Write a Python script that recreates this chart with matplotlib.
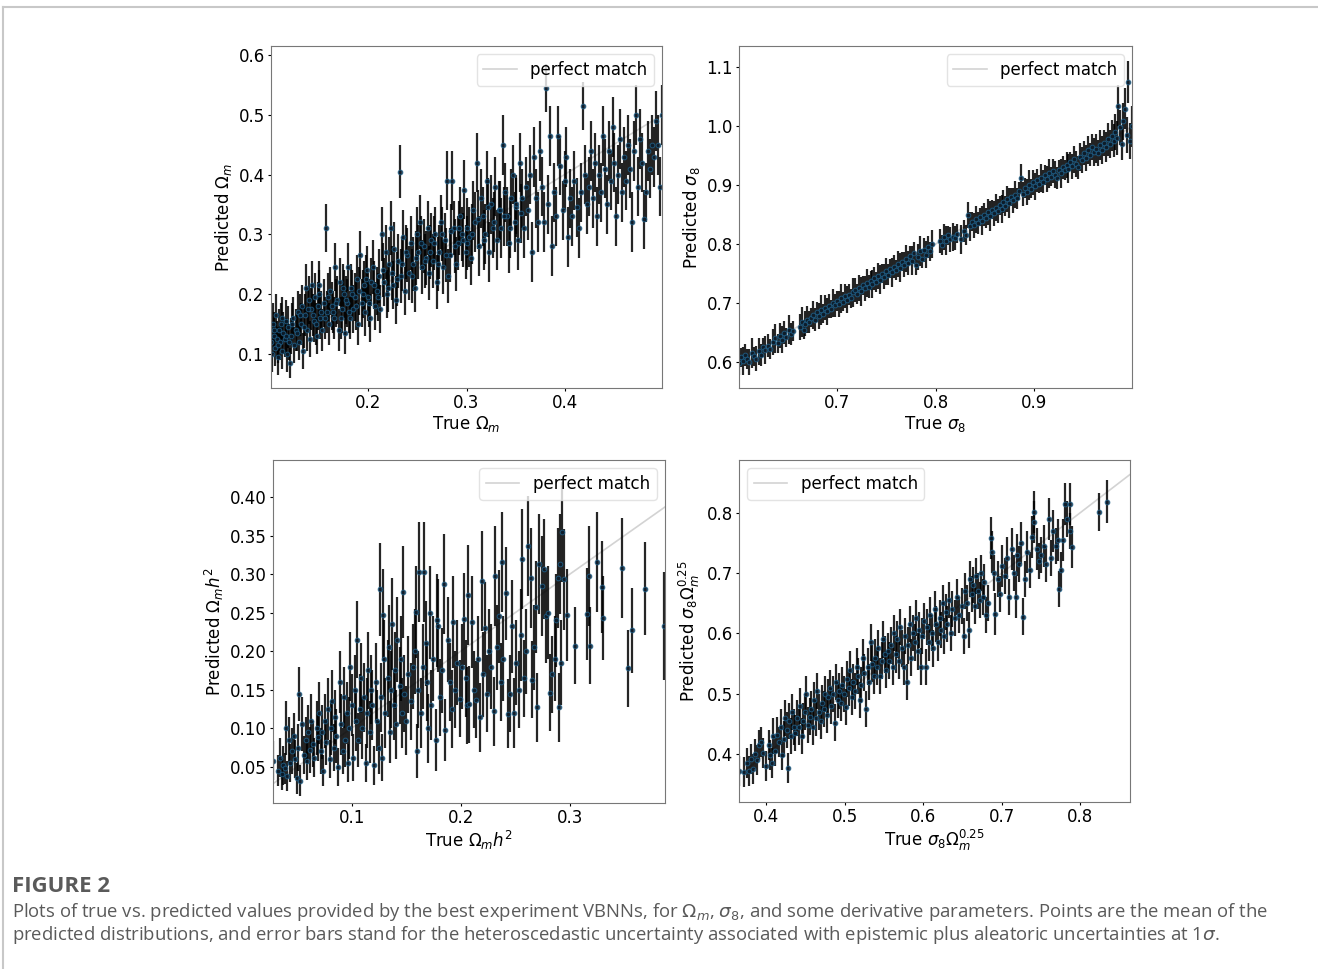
import numpy as np
import matplotlib as mpl
mpl.use("Agg")
import matplotlib.pyplot as plt
from matplotlib.lines import Line2D


FONT_TICKS = 12
mpl.rc('font', family='DejaVu Sans', size=FONT_TICKS)
mpl.rc('mathtext', fontset='dejavusans')

## Panel 1: Omega_m
om_true = [
    0.101, 0.102, 0.103, 0.104, 0.105, 0.106, 0.107, 0.108, 0.109, 0.110,
    0.111, 0.112, 0.113, 0.115, 0.116, 0.117, 0.118, 0.120, 0.121, 0.123,
    0.124, 0.126, 0.128, 0.129, 0.131, 0.132, 0.133, 0.135, 0.136, 0.137,
    0.139, 0.140, 0.141, 0.142, 0.144, 0.145, 0.147, 0.148, 0.150, 0.151,
    0.153, 0.155, 0.157, 0.158, 0.160, 0.161, 0.163, 0.165, 0.166, 0.168,
    0.170, 0.171, 0.173, 0.175, 0.176, 0.178, 0.179, 0.181, 0.182, 0.184,
    0.186, 0.188, 0.189, 0.191, 0.193, 0.195, 0.196, 0.198, 0.200, 0.202,
    0.203, 0.205, 0.207, 0.209, 0.211, 0.212, 0.214, 0.216, 0.218, 0.219,
    0.221, 0.223, 0.225, 0.226, 0.228, 0.230, 0.232, 0.233, 0.235, 0.237,
    0.239, 0.241, 0.243, 0.245, 0.247, 0.249, 0.251, 0.253, 0.255, 0.257,
    0.259, 0.261, 0.262, 0.264, 0.266, 0.268, 0.270, 0.272, 0.274, 0.276,
    0.278, 0.280, 0.281, 0.283, 0.285, 0.287, 0.289, 0.291, 0.293, 0.295,
    0.297, 0.299, 0.301, 0.303, 0.305, 0.307, 0.309, 0.311, 0.313, 0.315,
    0.317, 0.319, 0.321, 0.323, 0.325, 0.327, 0.329, 0.331, 0.333, 0.335,
    0.337, 0.339, 0.341, 0.343, 0.345, 0.347, 0.349, 0.351, 0.353, 0.355,
    0.357, 0.359, 0.361, 0.363, 0.365, 0.367, 0.369, 0.371, 0.373, 0.375,
    0.377, 0.379, 0.381, 0.383, 0.385, 0.387, 0.389, 0.391, 0.393, 0.395,
    0.398, 0.400, 0.402, 0.404, 0.406, 0.408, 0.410, 0.413, 0.415, 0.417,
    0.419, 0.421, 0.423, 0.425, 0.427, 0.429, 0.431, 0.433, 0.435, 0.437,
    0.439, 0.441, 0.443, 0.445, 0.447, 0.449, 0.451, 0.453, 0.455, 0.457,
    0.459, 0.461, 0.463, 0.465, 0.467, 0.469, 0.471, 0.473, 0.475, 0.477,
    0.479, 0.481, 0.483, 0.485, 0.487, 0.489, 0.491, 0.493, 0.495, 0.497, 0.499,
    # second, denser batch in the crowded low/mid range
    0.104, 0.108, 0.112, 0.116, 0.119, 0.122, 0.127, 0.130, 0.134, 0.138,
    0.143, 0.146, 0.149, 0.152, 0.156, 0.159, 0.164, 0.167, 0.172, 0.174,
    0.177, 0.180, 0.183, 0.187, 0.190, 0.194, 0.197, 0.201, 0.206, 0.210,
    0.215, 0.220, 0.224, 0.229, 0.234, 0.238, 0.244, 0.248, 0.254, 0.258,
    0.263, 0.267, 0.271, 0.275, 0.279, 0.284, 0.288, 0.292, 0.296, 0.300,
    0.306, 0.312, 0.318, 0.322, 0.328, 0.334, 0.338, 0.344, 0.350, 0.356]
om_pred = [
    0.120, 0.100, 0.150, 0.130, 0.110, 0.165, 0.125, 0.095, 0.140, 0.120,
    0.150, 0.105, 0.135, 0.125, 0.155, 0.100, 0.145, 0.085, 0.130, 0.160,
    0.115, 0.140, 0.170, 0.120, 0.150, 0.180, 0.105, 0.165, 0.210, 0.140,
    0.190, 0.125, 0.175, 0.215, 0.155, 0.195, 0.130, 0.180, 0.215, 0.160,
    0.140, 0.185, 0.310, 0.170, 0.150, 0.205, 0.180, 0.160, 0.245, 0.190,
    0.140, 0.220, 0.175, 0.200, 0.135, 0.185, 0.245, 0.160, 0.210, 0.175,
    0.195, 0.225, 0.150, 0.265, 0.185, 0.215, 0.170, 0.240, 0.195, 0.160,
    0.220, 0.245, 0.180, 0.205, 0.230, 0.175, 0.300, 0.220, 0.270, 0.200,
    0.250, 0.310, 0.215, 0.275, 0.190, 0.255, 0.405, 0.230, 0.295, 0.205,
    0.265, 0.235, 0.285, 0.250, 0.210, 0.300, 0.270, 0.320, 0.245, 0.280,
    0.260, 0.310, 0.235, 0.290, 0.255, 0.300, 0.220, 0.270, 0.320, 0.245,
    0.290, 0.390, 0.230, 0.265, 0.390, 0.310, 0.250, 0.285, 0.330, 0.300,
    0.375, 0.270, 0.310, 0.295, 0.260, 0.340, 0.320, 0.420, 0.280, 0.360,
    0.330, 0.300, 0.390, 0.270, 0.350, 0.310, 0.380, 0.290, 0.340, 0.310,
    0.450, 0.370, 0.330, 0.285, 0.360, 0.400, 0.320, 0.345, 0.290, 0.420,
    0.360, 0.310, 0.380, 0.340, 0.400, 0.270, 0.430, 0.360, 0.320, 0.440,
    0.380, 0.320, 0.545, 0.350, 0.465, 0.280, 0.370, 0.330, 0.465, 0.415,
    0.340, 0.390, 0.430, 0.295, 0.360, 0.330, 0.390, 0.345, 0.310, 0.370,
    0.515, 0.400, 0.350, 0.380, 0.440, 0.360, 0.420, 0.330, 0.400, 0.370,
    0.465, 0.410, 0.350, 0.440, 0.390, 0.480, 0.420, 0.330, 0.400, 0.460,
    0.370, 0.430, 0.390, 0.450, 0.410, 0.320, 0.440, 0.500, 0.380, 0.460,
    0.420, 0.325, 0.370, 0.440, 0.410, 0.450, 0.430, 0.490, 0.450, 0.380, 0.500,
    0.140, 0.115, 0.160, 0.130, 0.120, 0.150, 0.135, 0.165, 0.145, 0.175,
    0.165, 0.150, 0.200, 0.170, 0.160, 0.195, 0.170, 0.185, 0.160, 0.210,
    0.190, 0.170, 0.200, 0.180, 0.205, 0.200, 0.225, 0.185, 0.215, 0.195,
    0.240, 0.210, 0.235, 0.225, 0.250, 0.270, 0.230, 0.260, 0.285, 0.255,
    0.270, 0.285, 0.250, 0.300, 0.265, 0.305, 0.280, 0.310, 0.290, 0.285,
    0.300, 0.325, 0.290, 0.345, 0.320, 0.340, 0.330, 0.310, 0.350, 0.335]
om_err = [
    0.035, 0.030, 0.035, 0.030, 0.030, 0.035, 0.030, 0.030, 0.035, 0.030,
    0.035, 0.030, 0.035, 0.030, 0.035, 0.030, 0.035, 0.025, 0.030, 0.035,
    0.030, 0.035, 0.035, 0.030, 0.035, 0.035, 0.030, 0.035, 0.040, 0.035,
    0.040, 0.030, 0.035, 0.040, 0.035, 0.040, 0.030, 0.040, 0.040, 0.035,
    0.035, 0.040, 0.040, 0.035, 0.035, 0.040, 0.040, 0.035, 0.040, 0.040,
    0.035, 0.040, 0.040, 0.040, 0.035, 0.040, 0.040, 0.035, 0.040, 0.040,
    0.040, 0.040, 0.035, 0.040, 0.040, 0.040, 0.040, 0.040, 0.040, 0.040,
    0.040, 0.045, 0.040, 0.040, 0.045, 0.040, 0.045, 0.040, 0.045, 0.040,
    0.045, 0.045, 0.040, 0.045, 0.040, 0.045, 0.045, 0.045, 0.045, 0.040,
    0.045, 0.045, 0.045, 0.045, 0.040, 0.045, 0.045, 0.045, 0.045, 0.045,
    0.045, 0.045, 0.045, 0.045, 0.045, 0.045, 0.045, 0.045, 0.045, 0.045,
    0.045, 0.050, 0.045, 0.045, 0.050, 0.045, 0.045, 0.045, 0.050, 0.045,
    0.050, 0.045, 0.050, 0.050, 0.045, 0.050, 0.050, 0.050, 0.050, 0.050,
    0.050, 0.050, 0.050, 0.050, 0.050, 0.050, 0.050, 0.050, 0.050, 0.050,
    0.050, 0.050, 0.050, 0.050, 0.050, 0.050, 0.050, 0.050, 0.050, 0.050,
    0.050, 0.050, 0.050, 0.050, 0.050, 0.050, 0.050, 0.050, 0.050, 0.050,
    0.050, 0.050, 0.040, 0.050, 0.050, 0.050, 0.050, 0.050, 0.050, 0.050,
    0.050, 0.050, 0.050, 0.050, 0.050, 0.050, 0.050, 0.050, 0.050, 0.050,
    0.040, 0.050, 0.050, 0.050, 0.050, 0.050, 0.050, 0.050, 0.050, 0.050,
    0.050, 0.050, 0.050, 0.050, 0.050, 0.050, 0.050, 0.050, 0.050, 0.050,
    0.050, 0.050, 0.050, 0.050, 0.050, 0.050, 0.050, 0.050, 0.050, 0.050,
    0.050, 0.050, 0.050, 0.050, 0.050, 0.050, 0.050, 0.050, 0.050, 0.050, 0.050,
    0.030, 0.030, 0.035, 0.030, 0.030, 0.035, 0.030, 0.035, 0.035, 0.035,
    0.035, 0.035, 0.040, 0.035, 0.035, 0.040, 0.035, 0.040, 0.035, 0.040,
    0.040, 0.035, 0.040, 0.040, 0.040, 0.040, 0.040, 0.040, 0.040, 0.040,
    0.045, 0.040, 0.045, 0.045, 0.045, 0.045, 0.045, 0.045, 0.045, 0.045,
    0.045, 0.045, 0.045, 0.045, 0.045, 0.045, 0.045, 0.045, 0.045, 0.045,
    0.050, 0.050, 0.050, 0.050, 0.050, 0.050, 0.050, 0.050, 0.050, 0.050]

## Panel 2: sigma_8
s8_true = [
    0.601, 0.603, 0.605, 0.607, 0.609, 0.611, 0.614, 0.616, 0.618, 0.621,
    0.623, 0.625, 0.627, 0.630, 0.632, 0.635, 0.637, 0.640, 0.642, 0.644,
    0.646, 0.648, 0.651, 0.653, 0.655, 0.662, 0.664, 0.666, 0.668, 0.670,
    0.672, 0.674, 0.676, 0.678, 0.680, 0.682, 0.684, 0.686, 0.688, 0.690,
    0.692, 0.694, 0.696, 0.698, 0.700, 0.702, 0.704, 0.706, 0.708, 0.710,
    0.712, 0.714, 0.716, 0.718, 0.720, 0.722, 0.724, 0.726, 0.728, 0.730,
    0.732, 0.734, 0.736, 0.738, 0.740, 0.742, 0.744, 0.746, 0.748, 0.750,
    0.752, 0.754, 0.756, 0.758, 0.760, 0.762, 0.764, 0.766, 0.768, 0.770,
    0.772, 0.774, 0.776, 0.778, 0.780, 0.782, 0.784, 0.786, 0.788, 0.790,
    0.792, 0.794, 0.796, 0.805, 0.807, 0.809, 0.811, 0.813, 0.815, 0.818,
    0.820, 0.822, 0.826, 0.829, 0.831, 0.833, 0.835, 0.837, 0.839, 0.841,
    0.843, 0.845, 0.847, 0.849, 0.851, 0.853, 0.855, 0.857, 0.859, 0.861,
    0.863, 0.865, 0.867, 0.869, 0.871, 0.873, 0.875, 0.877, 0.879, 0.881,
    0.883, 0.885, 0.887, 0.889, 0.891, 0.893, 0.895, 0.897, 0.899, 0.901,
    0.903, 0.905, 0.907, 0.909, 0.911, 0.913, 0.915, 0.917, 0.919, 0.921,
    0.923, 0.925, 0.927, 0.929, 0.931, 0.933, 0.935, 0.937, 0.939, 0.941,
    0.943, 0.945, 0.947, 0.949, 0.951, 0.953, 0.955, 0.957, 0.959, 0.961,
    0.963, 0.965, 0.967, 0.969, 0.971, 0.973, 0.975, 0.977, 0.979, 0.981,
    0.982, 0.984, 0.985, 0.987, 0.989, 0.990, 0.992, 0.994, 0.995, 0.997, 0.999]
s8_pred = [
    0.598, 0.608, 0.602, 0.612, 0.605, 0.600, 0.615, 0.610, 0.606, 0.618,
    0.612, 0.625, 0.620, 0.628, 0.622, 0.634, 0.640, 0.632, 0.645, 0.638,
    0.650, 0.642, 0.655, 0.648, 0.652, 0.660, 0.668, 0.655, 0.665, 0.672,
    0.668, 0.675, 0.680, 0.672, 0.685, 0.678, 0.688, 0.682, 0.692, 0.686,
    0.695, 0.690, 0.700, 0.696, 0.703, 0.698, 0.708, 0.702, 0.712, 0.706,
    0.714, 0.708, 0.718, 0.722, 0.715, 0.726, 0.720, 0.730, 0.725, 0.734,
    0.728, 0.738, 0.732, 0.742, 0.736, 0.746, 0.740, 0.750, 0.745, 0.754,
    0.748, 0.758, 0.752, 0.762, 0.756, 0.766, 0.760, 0.770, 0.765, 0.775,
    0.768, 0.780, 0.772, 0.785, 0.764, 0.778, 0.788, 0.775, 0.790, 0.782,
    0.795, 0.788, 0.800, 0.805, 0.798, 0.812, 0.806, 0.815, 0.808, 0.812,
    0.810, 0.818, 0.808, 0.822, 0.815, 0.850, 0.830, 0.838, 0.832, 0.842,
    0.836, 0.846, 0.840, 0.850, 0.845, 0.855, 0.848, 0.858, 0.852, 0.862,
    0.856, 0.866, 0.860, 0.872, 0.865, 0.876, 0.870, 0.880, 0.874, 0.884,
    0.878, 0.890, 0.912, 0.885, 0.895, 0.888, 0.900, 0.894, 0.905, 0.898,
    0.908, 0.902, 0.912, 0.906, 0.918, 0.910, 0.920, 0.914, 0.924, 0.918,
    0.912, 0.926, 0.920, 0.930, 0.925, 0.935, 0.928, 0.940, 0.932, 0.944,
    0.936, 0.930, 0.948, 0.942, 0.955, 0.946, 0.960, 0.952, 0.964, 0.956,
    0.962, 0.955, 0.968, 0.960, 0.972, 0.965, 0.978, 0.970, 0.984, 0.975,
    0.990, 0.980, 1.035, 0.998, 0.970, 1.008, 1.030, 0.985, 1.075, 0.975, 1.000]
s8_err = [
    0.020, 0.016, 0.024, 0.019, 0.017, 0.022, 0.025, 0.016, 0.021, 0.023,
    0.018, 0.016, 0.024, 0.020, 0.017, 0.022, 0.025, 0.016, 0.021, 0.023,
    0.020, 0.016, 0.024, 0.019, 0.017, 0.022, 0.025, 0.016, 0.021, 0.023,
    0.018, 0.016, 0.024, 0.020, 0.017, 0.022, 0.025, 0.016, 0.021, 0.023,
    0.020, 0.016, 0.024, 0.019, 0.017, 0.022, 0.025, 0.016, 0.021, 0.023,
    0.018, 0.016, 0.024, 0.020, 0.017, 0.022, 0.025, 0.016, 0.021, 0.023,
    0.020, 0.016, 0.024, 0.019, 0.017, 0.022, 0.025, 0.016, 0.021, 0.023,
    0.018, 0.016, 0.024, 0.020, 0.017, 0.022, 0.025, 0.016, 0.021, 0.023,
    0.020, 0.016, 0.024, 0.019, 0.017, 0.022, 0.025, 0.016, 0.021, 0.023,
    0.018, 0.016, 0.024, 0.020, 0.017, 0.022, 0.025, 0.016, 0.021, 0.023,
    0.020, 0.016, 0.024, 0.019, 0.017, 0.022, 0.025, 0.016, 0.021, 0.023,
    0.018, 0.016, 0.024, 0.020, 0.017, 0.022, 0.025, 0.016, 0.021, 0.023,
    0.020, 0.016, 0.024, 0.019, 0.017, 0.022, 0.025, 0.016, 0.021, 0.023,
    0.018, 0.016, 0.024, 0.020, 0.017, 0.022, 0.025, 0.016, 0.021, 0.023,
    0.020, 0.016, 0.024, 0.019, 0.017, 0.022, 0.025, 0.016, 0.021, 0.023,
    0.018, 0.016, 0.024, 0.020, 0.017, 0.022, 0.025, 0.016, 0.021, 0.023,
    0.022, 0.020, 0.024, 0.022, 0.020, 0.022, 0.024, 0.020, 0.022, 0.024,
    0.024, 0.022, 0.026, 0.024, 0.022, 0.026, 0.028, 0.024, 0.026, 0.028,
    0.030, 0.028, 0.035, 0.030, 0.028, 0.032, 0.035, 0.030, 0.035, 0.030, 0.035]

## Panel 3: Omega_m h^2
omh2_true = [
    0.028, 0.033, 0.034, 0.036, 0.037, 0.039, 0.040, 0.041, 0.043, 0.044,
    0.045, 0.047, 0.048, 0.050, 0.051, 0.052, 0.053, 0.055, 0.056, 0.058,
    0.059, 0.060, 0.062, 0.063, 0.065, 0.066, 0.068, 0.069, 0.070, 0.072,
    0.073, 0.074, 0.076, 0.077, 0.078, 0.080, 0.081, 0.082, 0.084, 0.085,
    0.086, 0.088, 0.089, 0.090, 0.092, 0.093, 0.094, 0.096, 0.097, 0.098,
    0.099, 0.100, 0.101, 0.103, 0.104, 0.105, 0.106, 0.108, 0.109, 0.110,
    0.111, 0.113, 0.114, 0.115, 0.117, 0.118, 0.119, 0.121, 0.122, 0.123,
    0.125, 0.126, 0.127, 0.128, 0.129, 0.130, 0.131, 0.133, 0.134, 0.135,
    0.136, 0.137, 0.139, 0.140, 0.141, 0.142, 0.144, 0.145, 0.146, 0.147,
    0.148, 0.150, 0.152, 0.154, 0.156, 0.158, 0.159, 0.160, 0.161, 0.162,
    0.164, 0.165, 0.166, 0.168, 0.169, 0.170, 0.172, 0.173, 0.175, 0.177,
    0.178, 0.179, 0.181, 0.183, 0.185, 0.186, 0.188, 0.190, 0.192, 0.193,
    0.195, 0.197, 0.199, 0.201, 0.203, 0.205, 0.206, 0.207, 0.208, 0.210,
    0.212, 0.214, 0.216, 0.218, 0.219, 0.220, 0.222, 0.224, 0.226, 0.228,
    0.230, 0.231, 0.233, 0.235, 0.237, 0.238, 0.239, 0.241, 0.243, 0.245,
    0.247, 0.249, 0.251, 0.253, 0.255, 0.256, 0.258, 0.260, 0.262, 0.264,
    0.265, 0.267, 0.269, 0.270, 0.272, 0.274, 0.276, 0.278, 0.280, 0.282,
    0.284, 0.286, 0.287, 0.289, 0.290, 0.291, 0.292, 0.293, 0.295, 0.297,
    0.305, 0.316, 0.317, 0.318, 0.325, 0.329, 0.330, 0.348, 0.353, 0.357, 0.369, 0.386]
omh2_pred = [
    0.058, 0.045, 0.062, 0.040, 0.052, 0.048, 0.100, 0.038, 0.085, 0.055,
    0.070, 0.090, 0.060, 0.035, 0.075, 0.145, 0.032, 0.105, 0.065, 0.085,
    0.058, 0.095, 0.072, 0.110, 0.080, 0.062, 0.100, 0.088, 0.120, 0.070,
    0.095, 0.045, 0.110, 0.082, 0.125, 0.060, 0.100, 0.135, 0.075, 0.115,
    0.090, 0.050, 0.160, 0.105, 0.070, 0.140, 0.085, 0.120, 0.055, 0.100,
    0.180, 0.130, 0.062, 0.150, 0.110, 0.215, 0.085, 0.125, 0.165, 0.100,
    0.140, 0.055, 0.120, 0.175, 0.095, 0.150, 0.130, 0.052, 0.160, 0.110,
    0.075, 0.280, 0.140, 0.062, 0.247, 0.190, 0.120, 0.165, 0.205, 0.095,
    0.150, 0.235, 0.130, 0.175, 0.105, 0.215, 0.155, 0.190, 0.120, 0.277,
    0.145, 0.110, 0.170, 0.135, 0.180, 0.200, 0.251, 0.070, 0.150, 0.303,
    0.120, 0.180, 0.303, 0.210, 0.160, 0.100, 0.250, 0.130, 0.190, 0.085,
    0.240, 0.233, 0.140, 0.175, 0.287, 0.098, 0.215, 0.160, 0.125, 0.238,
    0.150, 0.185, 0.138, 0.180, 0.242, 0.165, 0.130, 0.273, 0.131, 0.238,
    0.150, 0.137, 0.190, 0.114, 0.291, 0.170, 0.230, 0.145, 0.200, 0.180,
    0.122, 0.297, 0.205, 0.245, 0.160, 0.316, 0.190, 0.275, 0.119, 0.145,
    0.232, 0.120, 0.185, 0.150, 0.221, 0.320, 0.165, 0.200, 0.336, 0.295,
    0.163, 0.205, 0.257, 0.127, 0.313, 0.285, 0.307, 0.245, 0.250, 0.146,
    0.170, 0.190, 0.240, 0.295, 0.127, 0.313, 0.185, 0.355, 0.293, 0.247,
    0.207, 0.248, 0.298, 0.207, 0.316, 0.283, 0.243, 0.308, 0.178, 0.227, 0.281, 0.233]
omh2_err = [
    0.025, 0.020, 0.025, 0.020, 0.025, 0.020, 0.035, 0.020, 0.030, 0.025,
    0.030, 0.030, 0.025, 0.020, 0.030, 0.035, 0.020, 0.035, 0.025, 0.030,
    0.025, 0.035, 0.030, 0.035, 0.030, 0.025, 0.035, 0.030, 0.040, 0.030,
    0.035, 0.020, 0.035, 0.030, 0.040, 0.025, 0.035, 0.040, 0.030, 0.035,
    0.035, 0.025, 0.040, 0.040, 0.030, 0.040, 0.035, 0.040, 0.025, 0.040,
    0.045, 0.040, 0.030, 0.045, 0.040, 0.050, 0.035, 0.045, 0.045, 0.040,
    0.045, 0.025, 0.045, 0.050, 0.040, 0.045, 0.045, 0.025, 0.050, 0.040,
    0.035, 0.060, 0.045, 0.030, 0.060, 0.050, 0.045, 0.050, 0.055, 0.040,
    0.050, 0.060, 0.045, 0.050, 0.045, 0.055, 0.050, 0.055, 0.045, 0.060,
    0.050, 0.045, 0.050, 0.050, 0.055, 0.055, 0.060, 0.035, 0.050, 0.065,
    0.045, 0.055, 0.065, 0.055, 0.050, 0.045, 0.060, 0.045, 0.055, 0.040,
    0.060, 0.060, 0.050, 0.055, 0.065, 0.040, 0.055, 0.050, 0.050, 0.060,
    0.050, 0.055, 0.050, 0.055, 0.060, 0.050, 0.050, 0.065, 0.050, 0.060,
    0.050, 0.050, 0.055, 0.045, 0.065, 0.055, 0.060, 0.050, 0.055, 0.055,
    0.045, 0.065, 0.055, 0.060, 0.050, 0.065, 0.055, 0.060, 0.045, 0.050,
    0.060, 0.045, 0.055, 0.050, 0.060, 0.065, 0.050, 0.055, 0.065, 0.065,
    0.050, 0.055, 0.060, 0.045, 0.065, 0.065, 0.065, 0.060, 0.060, 0.050,
    0.050, 0.055, 0.060, 0.065, 0.045, 0.065, 0.055, 0.065, 0.065, 0.060,
    0.050, 0.060, 0.065, 0.050, 0.065, 0.060, 0.055, 0.065, 0.050, 0.055, 0.060, 0.070]

## Panel 4: sigma_8 Omega_m^0.25
s8om_true = [
    0.365, 0.372, 0.375, 0.378, 0.380, 0.383, 0.386, 0.388, 0.390, 0.393,
    0.396, 0.400, 0.403, 0.405, 0.407, 0.409, 0.411, 0.413, 0.416, 0.418,
    0.420, 0.422, 0.424, 0.426, 0.427, 0.429, 0.431, 0.433, 0.435, 0.437,
    0.439, 0.441, 0.443, 0.445, 0.447, 0.449, 0.451, 0.453, 0.455, 0.457,
    0.459, 0.461, 0.463, 0.465, 0.467, 0.469, 0.471, 0.473, 0.475, 0.477,
    0.479, 0.481, 0.483, 0.485, 0.487, 0.489, 0.491, 0.493, 0.495, 0.497,
    0.499, 0.501, 0.503, 0.505, 0.507, 0.509, 0.511, 0.513, 0.515, 0.517,
    0.519, 0.521, 0.523, 0.525, 0.527, 0.529, 0.531, 0.533, 0.535, 0.537,
    0.539, 0.541, 0.543, 0.545, 0.547, 0.549, 0.551, 0.553, 0.555, 0.557,
    0.559, 0.561, 0.563, 0.565, 0.567, 0.569, 0.571, 0.573, 0.575, 0.577,
    0.579, 0.581, 0.583, 0.585, 0.587, 0.589, 0.591, 0.593, 0.595, 0.597,
    0.599, 0.601, 0.603, 0.605, 0.607, 0.609, 0.611, 0.613, 0.615, 0.617,
    0.619, 0.621, 0.623, 0.625, 0.627, 0.629, 0.631, 0.633, 0.635, 0.637,
    0.640, 0.643, 0.646, 0.649, 0.652, 0.654, 0.656, 0.658, 0.660, 0.662,
    0.664, 0.666, 0.668, 0.670, 0.672, 0.674, 0.676, 0.678, 0.680, 0.683,
    0.686, 0.688, 0.690, 0.692, 0.695, 0.698, 0.701, 0.704, 0.707, 0.710,
    0.713, 0.716, 0.718, 0.720, 0.722, 0.725, 0.727, 0.730, 0.733, 0.736,
    0.739, 0.741, 0.742, 0.745, 0.748, 0.751, 0.754, 0.757, 0.760, 0.763,
    0.766, 0.769, 0.772, 0.773, 0.776, 0.779, 0.781, 0.784, 0.787, 0.788, 0.790, 0.825, 0.835]
s8om_pred = [
    0.372, 0.370, 0.385, 0.372, 0.392, 0.375, 0.400, 0.390, 0.415, 0.420,
    0.402, 0.380, 0.415, 0.398, 0.385, 0.430, 0.405, 0.432, 0.420, 0.445,
    0.398, 0.425, 0.460, 0.440, 0.377, 0.455, 0.430, 0.470, 0.445, 0.435,
    0.460, 0.445, 0.480, 0.430, 0.455, 0.470, 0.500, 0.448, 0.462, 0.475,
    0.445, 0.490, 0.460, 0.505, 0.470, 0.455, 0.485, 0.475, 0.500, 0.465,
    0.495, 0.510, 0.480, 0.500, 0.452, 0.520, 0.490, 0.505, 0.485, 0.515,
    0.500, 0.478, 0.525, 0.510, 0.540, 0.495, 0.520, 0.505, 0.545, 0.530,
    0.490, 0.515, 0.560, 0.535, 0.475, 0.545, 0.520, 0.585, 0.550, 0.530,
    0.560, 0.545, 0.575, 0.530, 0.555, 0.590, 0.565, 0.540, 0.570, 0.555,
    0.580, 0.545, 0.600, 0.565, 0.590, 0.555, 0.610, 0.575, 0.545, 0.595,
    0.520, 0.580, 0.615, 0.560, 0.600, 0.585, 0.625, 0.570, 0.605, 0.545,
    0.595, 0.620, 0.544, 0.610, 0.585, 0.630, 0.600, 0.575, 0.640, 0.615,
    0.585, 0.625, 0.605, 0.650, 0.595, 0.635, 0.615, 0.655, 0.600, 0.640,
    0.625, 0.660, 0.630, 0.645, 0.596, 0.670, 0.650, 0.605, 0.690, 0.665,
    0.680, 0.645, 0.695, 0.670, 0.655, 0.700, 0.660, 0.685, 0.630, 0.650,
    0.758, 0.735, 0.700, 0.632, 0.690, 0.665, 0.712, 0.695, 0.725, 0.660,
    0.740, 0.700, 0.661, 0.730, 0.715, 0.750, 0.628, 0.690, 0.735, 0.705,
    0.760, 0.785, 0.801, 0.740, 0.720, 0.730, 0.745, 0.715, 0.790, 0.725,
    0.770, 0.745, 0.755, 0.674, 0.705, 0.755, 0.815, 0.790, 0.815, 0.770, 0.744, 0.802, 0.819]
s8om_err = [
    0.025, 0.025, 0.025, 0.025, 0.025, 0.025, 0.025, 0.025, 0.025, 0.025,
    0.025, 0.025, 0.025, 0.025, 0.025, 0.030, 0.025, 0.030, 0.025, 0.030,
    0.025, 0.030, 0.030, 0.030, 0.025, 0.030, 0.030, 0.030, 0.030, 0.030,
    0.030, 0.030, 0.030, 0.030, 0.030, 0.030, 0.030, 0.030, 0.030, 0.030,
    0.030, 0.030, 0.030, 0.030, 0.030, 0.030, 0.030, 0.030, 0.030, 0.030,
    0.030, 0.030, 0.030, 0.030, 0.030, 0.030, 0.030, 0.030, 0.030, 0.030,
    0.030, 0.030, 0.030, 0.030, 0.030, 0.030, 0.030, 0.030, 0.030, 0.030,
    0.030, 0.030, 0.030, 0.030, 0.030, 0.030, 0.030, 0.030, 0.030, 0.030,
    0.030, 0.030, 0.030, 0.030, 0.030, 0.030, 0.030, 0.030, 0.030, 0.030,
    0.030, 0.030, 0.030, 0.030, 0.030, 0.030, 0.030, 0.030, 0.030, 0.030,
    0.030, 0.030, 0.030, 0.030, 0.030, 0.030, 0.030, 0.030, 0.030, 0.030,
    0.030, 0.030, 0.030, 0.030, 0.030, 0.030, 0.030, 0.030, 0.030, 0.030,
    0.030, 0.030, 0.030, 0.030, 0.030, 0.030, 0.030, 0.030, 0.030, 0.030,
    0.030, 0.030, 0.030, 0.030, 0.030, 0.030, 0.030, 0.030, 0.030, 0.030,
    0.030, 0.030, 0.030, 0.030, 0.030, 0.030, 0.030, 0.030, 0.030, 0.030,
    0.035, 0.035, 0.030, 0.035, 0.030, 0.030, 0.035, 0.030, 0.035, 0.030,
    0.035, 0.030, 0.035, 0.035, 0.030, 0.035, 0.030, 0.030, 0.035, 0.030,
    0.035, 0.035, 0.035, 0.035, 0.030, 0.030, 0.035, 0.030, 0.035, 0.030,
    0.035, 0.030, 0.035, 0.030, 0.030, 0.035, 0.035, 0.030, 0.035, 0.030, 0.035, 0.032, 0.035]

## Perfect-match line ranges (same as x limits)
om_range = (0.1005, 0.4995)
s8_range = (0.6005, 0.9995)
omh2_range = (0.028, 0.387)
s8om_range = (0.365, 0.864)

caption_title = "FIGURE 2"
caption_lines = [
    r"Plots of true vs. predicted values provided by the best experiment VBNNs, for $\Omega_m$, $\sigma_8$,"
    r" and some derivative parameters. Points are the mean of the",
    r"predicted distributions, and error bars stand for the heteroscedastic uncertainty associated"
    r" with epistemic plus aleatoric uncertainties at 1$\sigma$.",
]


def plot_panel(ax, true, pred, err, line_range, ylim, xlabel, ylabel, legend_loc):
    ax.plot(line_range, line_range, c='lightgray', lw=1.2, label='perfect match', zorder=1)
    ax.errorbar(true, pred, yerr=err, fmt='o', ms=3.4,
                mfc='#0b1c2c', mec='#1f5f88', mew=0.7,
                ecolor='black', elinewidth=1.6, alpha=0.85, zorder=2)
    ax.set_xlim(*line_range)
    ax.set_ylim(*ylim)
    ax.tick_params(length=2.5, pad=2)
    ax.set_xlabel(xlabel, labelpad=1)
    ax.set_ylabel(ylabel, labelpad=3)
    for sp in ax.spines.values():
        sp.set_color('#777777')
    ax.legend(loc=legend_loc, fontsize=12, framealpha=0.8, edgecolor='#dddddd')


def main():
    fig = plt.figure(figsize=(13.18, 9.69), dpi=100)

    ax1 = fig.add_axes([0.2056, 0.5996, 0.2967, 0.3529])
    ax2 = fig.add_axes([0.5607, 0.5996, 0.2982, 0.3529])
    ax3 = fig.add_axes([0.2071, 0.1713, 0.2974, 0.3540])
    ax4 = fig.add_axes([0.5607, 0.1723, 0.2967, 0.3530])

    plot_panel(ax1, om_true, om_pred, om_err, om_range, (0.043, 0.615),
               r"True $\Omega_m$", r"Predicted $\Omega_m$", 'upper right')
    plot_panel(ax2, s8_true, s8_pred, s8_err, s8_range, (0.556, 1.136),
               r"True $\sigma_8$", r"Predicted $\sigma_8$", 'upper right')
    plot_panel(ax3, omh2_true, omh2_pred, omh2_err, omh2_range, (0.003, 0.448),
               r"True $\Omega_m h^2$", r"Predicted $\Omega_m h^2$", 'upper right')
    plot_panel(ax4, s8om_true, s8om_pred, s8om_err, s8om_range, (0.320, 0.888),
               r"True $\sigma_8\Omega_m^{0.25}$", r"Predicted $\sigma_8\Omega_m^{0.25}$", 'upper left')
    ax3.set_yticks(np.arange(0.05, 0.41, 0.05))
    ax4.set_yticks([0.4, 0.5, 0.6, 0.7, 0.8])

    # page frame (top and left edges)
    fig.add_artist(Line2D([0.0023, 1.0], [0.9928, 0.9928], color='#c8c8c8', lw=1.5))
    fig.add_artist(Line2D([0.0023, 0.0023], [0.0, 0.9928], color='#c8c8c8', lw=1.5))

    # caption
    fig.text(0.0091, 1 - 887 / 969, caption_title, fontsize=16, fontweight='bold',
             color='#5a5a5a', family='Open Sans', va='center')
    for i, line in enumerate(caption_lines):
        fig.text(0.0091, 1 - (912 + 23 * i) / 969, line, fontsize=13.3,
                 color='#5a5a5a', family='Open Sans', va='center')

    fig.savefig('out.png', dpi=100)


if __name__ == '__main__':
    main()
